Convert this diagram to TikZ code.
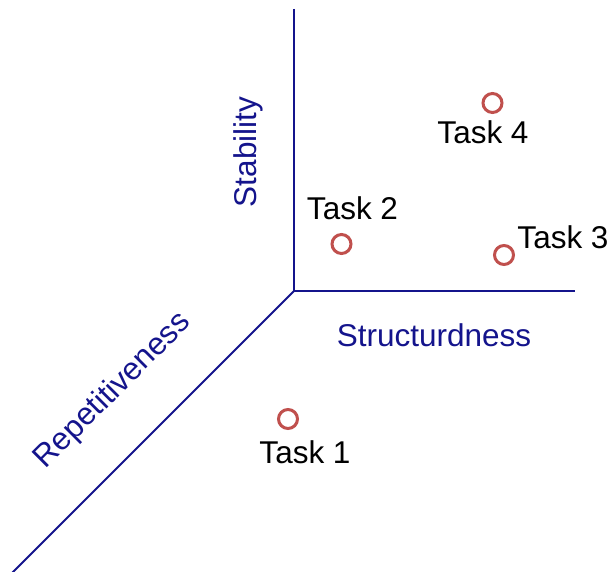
\documentclass[tikz,border=0pt]{standalone}
\usepackage{fontspec}
\setmainfont{Liberation Sans}
\begin{document}
\begin{tikzpicture}[x=1pt,y=-1pt,
  axis/.style={draw=axisblue,line width=2pt},
  axlabel/.style={text=axisblue,font=\fontsize{31.5}{37}\selectfont,inner sep=0pt},
  task/.style={circle,draw=taskred,line width=3pt,minimum size=19pt,inner sep=0pt},
  tasklabel/.style={text=black,font=\fontsize{31.5}{37}\selectfont,inner sep=0pt}]
\definecolor{axisblue}{RGB}{20,20,140}
\definecolor{taskred}{RGB}{192,80,77}
\useasboundingbox (0,0) rectangle (611,572);
\coordinate (O) at (294,291);
\coordinate (top) at (294,9);
\coordinate (right) at (575,291);
\coordinate (diag) at (12,573);
\draw[axis] (top) -- (O) -- (right);
\draw[axis] (O) -- (diag);
\node[axlabel,rotate=90] (stab) at (248.5,152) {Stability};
\node[axlabel] (struct) at (434,335.5) {Structurdness};
\node[axlabel,rotate=45] (rep) at (113,391) {Repetitiveness};
\node[task] (t4) at (492.5,103) {};
\node[task] (t2) at (341.5,244) {};
\node[task] (t3) at (504,255) {};
\node[task] (t1) at (288,419) {};
\node[tasklabel] (l4) at (483,132) {Task 4};
\node[tasklabel] (l2) at (352.5,208.5) {Task 2};
\node[tasklabel] (l3) at (563,237.5) {Task 3};
\node[tasklabel] (l1) at (305,452.5) {Task 1};
\end{tikzpicture}
\end{document}
